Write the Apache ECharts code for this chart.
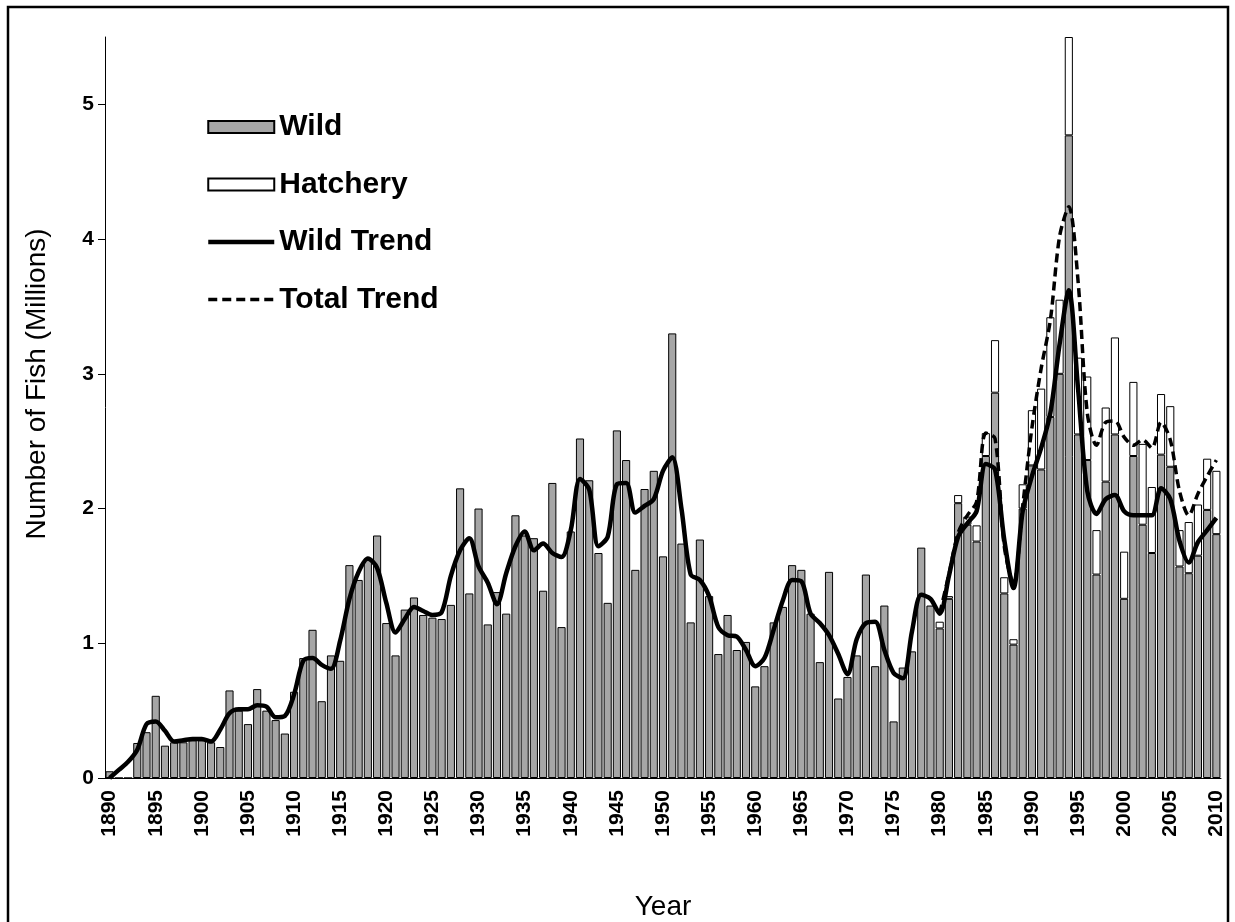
<!DOCTYPE html>
<html>
<head>
<meta charset="utf-8">
<script src="https://cdn.jsdelivr.net/npm/echarts@6/dist/echarts.min.js"></script>
<style>
  html, body { margin: 0; padding: 0; background: #fff; }
  #chart { width: 1235px; height: 922px; }
</style>
</head>
<body>
<div id="chart"></div>
<script>
// years 1890 - 2010
const years = [];
for (let y = 1890; y <= 2010; y++) years.push(String(y));

// wild run size (millions), one per year
const wild = [
  0.05, 0, 0, 0.26, 0.34, 0.61, 0.24, 0.265, 0.265, 0.28,
  0.28, 0.265, 0.23, 0.65, 0.50, 0.40, 0.66, 0.50, 0.43, 0.33,
  0.64, 0.89, 1.10, 0.57, 0.91, 0.87, 1.58, 1.47, 1.62, 1.80,
  1.15, 0.91, 1.25, 1.34, 1.21, 1.19, 1.18, 1.285, 2.15, 1.37,
  2.00, 1.14, 1.38, 1.22, 1.95, 1.80, 1.78, 1.39, 2.19, 1.12,
  1.83, 2.52, 2.21, 1.67, 1.30, 2.58, 2.36, 1.545, 2.145, 2.28,
  1.645, 3.30, 1.74, 1.155, 1.77, 1.35, 0.92, 1.21, 0.95, 1.01,
  0.68, 0.83, 1.155, 1.27, 1.58, 1.545, 1.22, 0.86, 1.53, 0.59,
  0.75, 0.91, 1.51, 0.83, 1.28, 0.42, 0.82, 0.94, 1.71, 1.28,
  1.11, 1.33, 2.04, 1.88, 1.755, 2.39, 2.86, 1.37, 0.99, 2.00,
  2.32, 2.29, 2.68, 3.00, 4.77, 2.55, 2.36, 1.51, 2.20, 2.55,
  1.33, 2.39, 1.88, 1.67, 2.40, 2.31, 1.57, 1.52, 1.65, 1.99,
  1.81
];

// hatchery fish, only from 1980 on
const hatcheryStart = 1980;
const hatchery = [
  0.05, 0.02, 0.06, 0.06, 0.12, 0.17, 0.39, 0.12, 0.04, 0.18,
  0.41, 0.60, 0.74, 0.55, 0.73, 0.57, 0.62, 0.33, 0.55, 0.72,
  0.35, 0.55, 0.60, 0.49, 0.45, 0.45, 0.27, 0.38, 0.38, 0.38,
  0.47
];

// smoothed trend of wild fish
const wildTrend = [
  0.00, 0.06, 0.12, 0.21, 0.40, 0.42, 0.35, 0.27, 0.28, 0.29,
  0.29, 0.27, 0.36, 0.48, 0.51, 0.51, 0.54, 0.53, 0.45, 0.46,
  0.62, 0.87, 0.89, 0.84, 0.81, 1.02, 1.33, 1.53, 1.63, 1.56,
  1.30, 1.08, 1.18, 1.27, 1.24, 1.21, 1.23, 1.50, 1.69, 1.78,
  1.57, 1.45, 1.29, 1.52, 1.72, 1.83, 1.69, 1.74, 1.67, 1.64,
  1.84, 2.22, 2.14, 1.72, 1.79, 2.18, 2.19, 1.97, 2.02, 2.07,
  2.28, 2.38, 2.00, 1.51, 1.47, 1.35, 1.12, 1.06, 1.05, 0.95,
  0.83, 0.89, 1.10, 1.32, 1.47, 1.46, 1.22, 1.15, 1.06, 0.92,
  0.77, 1.03, 1.15, 1.16, 0.95, 0.78, 0.74, 1.09, 1.36, 1.33,
  1.22, 1.50, 1.79, 1.89, 1.98, 2.33, 2.29, 1.77, 1.41, 1.98,
  2.24, 2.45, 2.71, 3.22, 3.62, 2.89, 2.13, 1.96, 2.07, 2.10,
  1.98, 1.95, 1.95, 1.95, 2.15, 2.07, 1.76, 1.60, 1.75, 1.84,
  1.93
];

// smoothed trend of wild + hatchery, from 1980 on
const totalTrend = [
  1.22, 1.51, 1.82, 1.95, 2.05, 2.56, 2.52, 1.72, 1.44, 2.02,
  2.60, 3.04, 3.40, 4.02, 4.24, 3.69, 2.71, 2.47, 2.64, 2.65,
  2.53, 2.47, 2.51, 2.45, 2.64, 2.51, 2.13, 1.95, 2.11, 2.24,
  2.36
];

const yTicks = [0, 1, 2, 3, 4, 5];

function padFrom(startYear, arr) {
  const out = years.map(() => null);
  const off = startYear - 1890;
  arr.forEach((v, i) => { out[off + i] = v; });
  return out;
}

const FONT = '"Liberation Sans", Arial, sans-serif';
const chart = echarts.init(document.getElementById('chart'));

chart.setOption({
  animation: false,
  backgroundColor: '#fff',
  grid: { left: 105, top: 37, width: 1116, height: 741, outerBoundsMode: 'none' },
  legend: {
    orient: 'vertical',
    left: 201,
    top: 107,
    itemWidth: 66,
    itemHeight: 12,
    itemGap: 27.5,
    data: [
      { name: 'Wild', icon: 'rect' },
      { name: 'Hatchery', icon: 'rect' },
      { name: 'Wild Trend', itemStyle: { opacity: 0 }, lineStyle: { width: 4.5 } },
      { name: 'Total Trend', itemStyle: { opacity: 0 }, lineStyle: { width: 3.5 } }
    ],
    textStyle: { fontFamily: FONT, fontSize: 30, fontWeight: 'bold', color: '#000' }
  },
  xAxis: {
    type: 'category',
    data: years,
    name: 'Year',
    nameLocation: 'middle',
    nameGap: 115,
    nameTextStyle: { fontFamily: FONT, fontSize: 28, color: '#000' },
    axisLine: { lineStyle: { color: '#000', width: 1 } },
    axisTick: { interval: 0, length: 7, lineStyle: { color: '#000' } },
    axisLabel: {
      interval: 4, rotate: 90, margin: 12,
      fontFamily: FONT, fontSize: 21, fontWeight: 'bold', color: '#000'
    }
  },
  yAxis: {
    type: 'value',
    min: 0,
    max: 5.5,
    interval: 1,
    axisLine: { show: true, lineStyle: { color: '#000', width: 1 } },
    axisTick: { show: true, length: 7, customValues: yTicks, lineStyle: { color: '#000' } },
    splitLine: { show: false },
    axisLabel: {
      margin: 11,
      customValues: yTicks,
      fontFamily: FONT, fontSize: 21, fontWeight: 'bold', color: '#000'
    }
  },
  graphic: [
    {
      type: 'rect',
      shape: { x: 8, y: 7, width: 1220, height: 960 },
      style: { fill: 'none', stroke: '#000', lineWidth: 2.5 },
      silent: true
    },
    {
      type: 'text',
      x: 37, y: 384,
      rotation: Math.PI / 2,
      style: {
        text: 'Number of Fish (Millions)',
        font: '28px ' + FONT,
        fill: '#000',
        align: 'center',
        verticalAlign: 'middle'
      }
    }
  ],
  series: [
    {
      name: 'Wild',
      type: 'bar',
      stack: 'run',
      data: wild,
      barCategoryGap: '12%',
      itemStyle: { color: '#a6a6a6', borderColor: '#000', borderWidth: 1 }
    },
    {
      name: 'Hatchery',
      type: 'bar',
      stack: 'run',
      data: padFrom(hatcheryStart, hatchery),
      itemStyle: { color: '#fff', borderColor: '#000', borderWidth: 1 }
    },
    {
      name: 'Total Trend',
      type: 'line',
      data: padFrom(hatcheryStart, totalTrend),
      symbol: 'none',
      smooth: 0.3,
      lineStyle: { color: '#000', width: 3.5, type: [9, 5] },
      itemStyle: { color: '#000' }
    },
    {
      name: 'Wild Trend',
      type: 'line',
      data: wildTrend,
      symbol: 'none',
      smooth: 0.3,
      lineStyle: { color: '#000', width: 4.5 },
      itemStyle: { color: '#000' }
    }
  ]
});
</script>
</body>
</html>
